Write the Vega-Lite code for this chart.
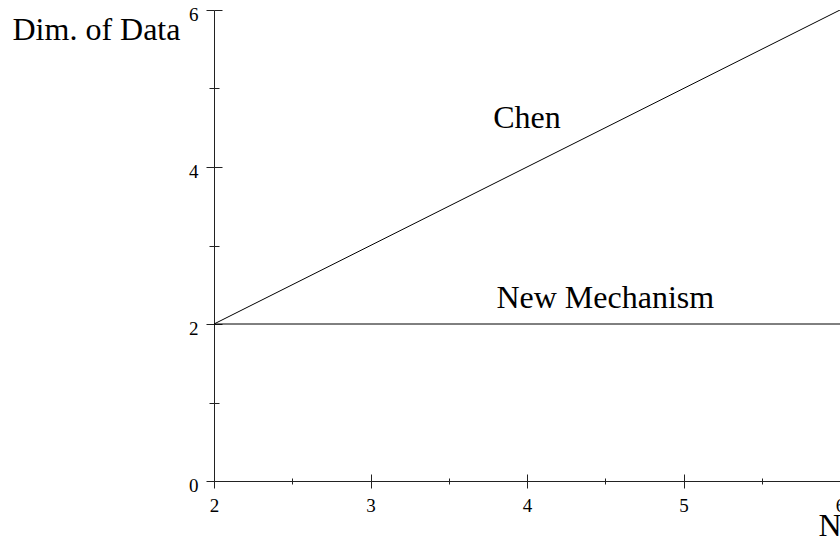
{
  "$schema": "https://vega.github.io/schema/vega-lite/v6.json",
  "width": 626,
  "height": 471,
  "autosize": {"type": "none"},
  "padding": {"left": 214, "top": 10, "right": 0, "bottom": 56},
  "background": "white",
  "config": {
    "view": {"stroke": null},
    "font": "Liberation Serif",
    "axis": {"grid": false, "domainColor": "#222", "tickColor": "#222", "labelColor": "black", "titleColor": "black", "labelFont": "Liberation Serif", "titleFont": "Liberation Serif", "labelFontSize": 19, "titleFontWeight": "normal", "titleFontSize": 32, "domainWidth": 1, "tickWidth": 1}
  },
  "datasets": {
    "lines": [
      {"series": "Chen", "n": 2, "dim": 2},
      {"series": "Chen", "n": 6, "dim": 6},
      {"series": "New Mechanism", "n": 2, "dim": 2},
      {"series": "New Mechanism", "n": 6, "dim": 2}
    ],
    "labels": [
      {"label": "Chen", "n": 4, "dim": 4.5},
      {"label": "New Mechanism", "n": 4.5, "dim": 2.2}
    ]
  },
  "resolve": {"axis": {"x": "independent", "y": "independent"}},
  "layer": [
    {
      "data": {"name": "lines"},
      "transform": [{"filter": "datum.series === 'Chen'"}],
      "mark": {"type": "line", "color": "black", "strokeWidth": 1, "clip": true},
      "encoding": {
        "x": {"field": "n", "type": "quantitative", "scale": {"domain": [2, 6], "nice": false, "zero": false},
          "axis": {"orient": "bottom", "values": [2, 3, 4, 5, 6], "tickSize": 7, "labelPadding": 8, "labelFlush": false, "labelOverlap": false,
            "title": "N", "titleAlign": "left", "titleAnchor": "start", "titleBaseline": "alphabetic", "titleX": 604, "titleY": 54}},
        "y": {"field": "dim", "type": "quantitative", "scale": {"domain": [0, 6], "nice": false},
          "axis": {"orient": "left", "values": [0, 2, 4, 6], "tickSize": 8, "labelPadding": 8, "labelBaseline": "alphabetic", "labelOffset": 10.5, "labelFlush": false, "labelOverlap": false,
            "title": "Dim. of Data", "titleAngle": 0, "titleAlign": "left", "titleAnchor": "start", "titleBaseline": "alphabetic", "titleX": -202, "titleY": 29}},
        "detail": {"field": "series"}
      }
    },
    {
      "data": {"name": "lines"},
      "transform": [{"filter": "datum.series === 'New Mechanism'"}],
      "mark": {"type": "line", "color": "black", "strokeWidth": 1, "clip": true},
      "encoding": {
        "x": {"field": "n", "type": "quantitative",
          "axis": {"orient": "bottom", "values": [2, 3, 4, 5, 6], "offset": -7, "tickSize": 7, "domain": false, "labels": false, "title": null}},
        "y": {"field": "dim", "type": "quantitative",
          "axis": {"orient": "left", "values": [0, 2, 4, 6], "offset": -8, "tickSize": 8, "domain": false, "labels": false, "title": null}}
      }
    },
    {
      "data": {"name": "labels"},
      "mark": {"type": "text", "fontSize": 32, "font": "Liberation Serif", "color": "black", "baseline": "alphabetic", "align": "center"},
      "encoding": {
        "x": {"field": "n", "type": "quantitative",
          "axis": {"orient": "bottom", "values": [2.5, 3.5, 4.5, 5.5], "offset": -3, "tickSize": 6, "domain": false, "labels": false, "title": null}},
        "y": {"field": "dim", "type": "quantitative",
          "axis": {"orient": "left", "values": [1, 3, 5], "offset": -5, "tickSize": 10, "domain": false, "labels": false, "title": null}},
        "text": {"field": "label"}
      }
    }
  ]
}
